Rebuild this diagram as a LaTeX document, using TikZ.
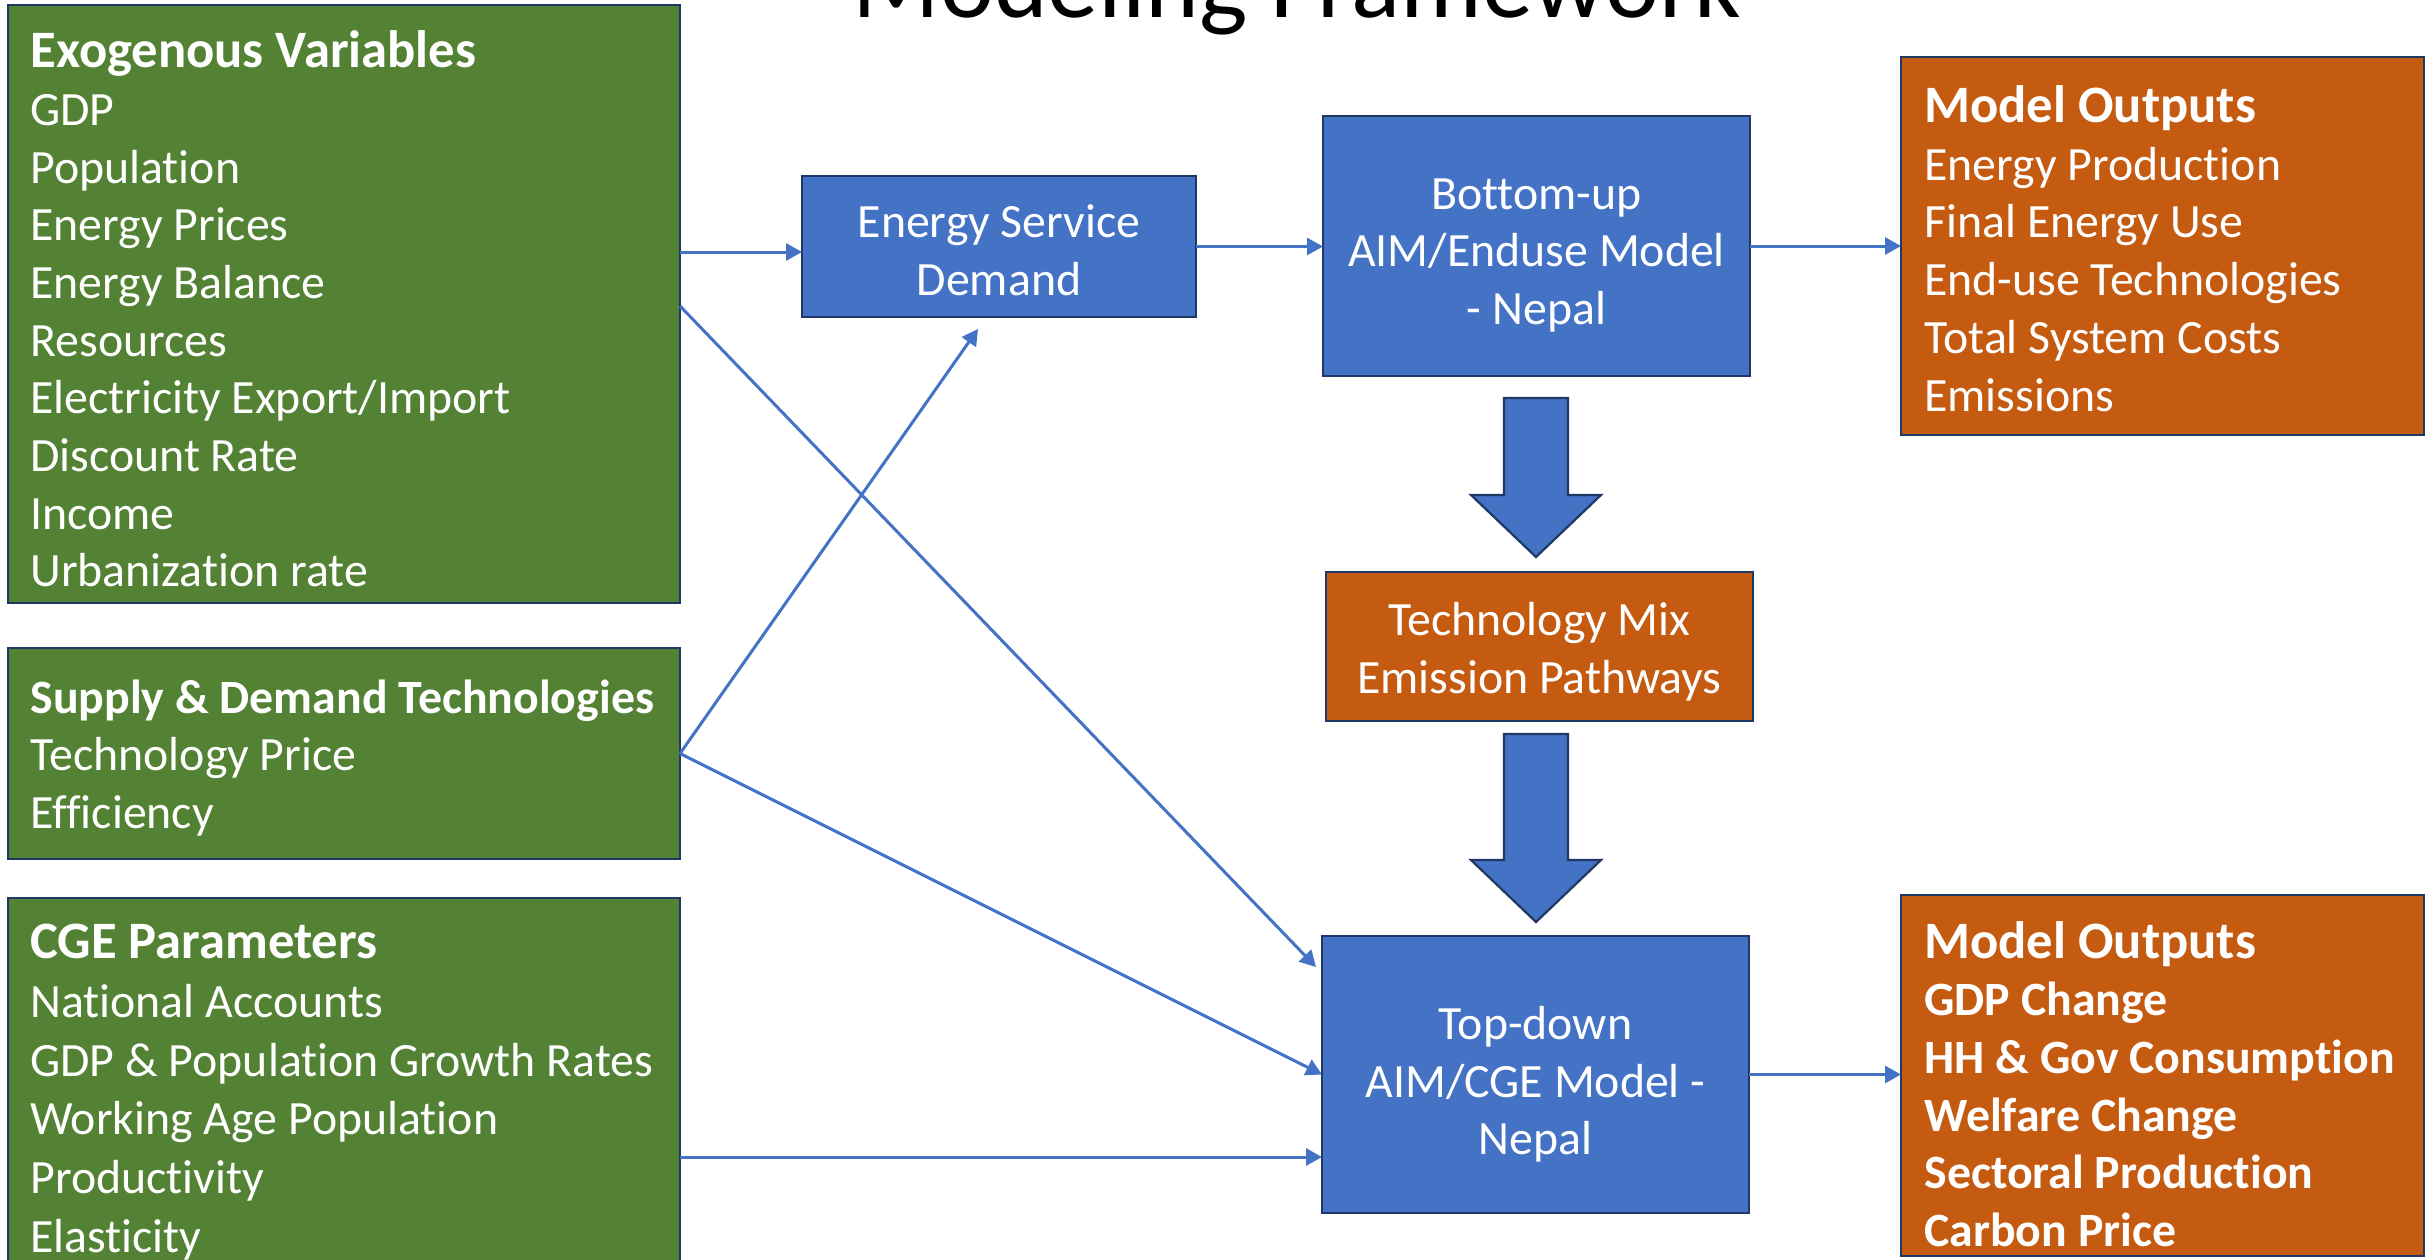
\documentclass[tikz,border=0pt]{standalone}
\usepackage{fontspec}
\setmainfont{Carlito}[Ligatures=NoCommon]
\usetikzlibrary{arrows.meta,calc}
\definecolor{fgreen}{HTML}{548235}
\definecolor{fblue}{HTML}{4472C4}
\definecolor{forange}{HTML}{C55A11}
\definecolor{fnavy}{HTML}{1F3864}
\newcommand\dgbody{\fontsize{23.9pt}{28.85pt}\selectfont}
\newcommand\dghead[1]{{\fontsize{26.3pt}{28.85pt}\selectfont\bfseries #1}}
\begin{document}
\begin{tikzpicture}[x=0.5pt,y=-0.5pt,
  box/.style={draw=fnavy, line width=1.1pt, inner sep=0pt, outer sep=0pt},
  gbox/.style={box, fill=fgreen},
  bbox/.style={box, fill=fblue},
  obox/.style={box, fill=forange},
  ctext/.style={align=center, text=white, inner sep=0pt, font=\dgbody},
  listtext/.style={anchor=west, align=left, text=white, inner sep=0pt, font=\dgbody},
  conn/.style={draw=fblue, line width=1.5pt, -{Triangle[length=8pt,width=8.5pt]}},
  blockarrow/.style={draw=fnavy, fill=fblue, line width=1.1pt, line join=miter}
]
\fill[white] (0,0) rectangle (2435,1259);
\useasboundingbox (0,0) rectangle (2435,1259);

% title
\node[anchor=base, inner sep=0pt, font=\fontsize{51.2pt}{60pt}\selectfont] (title) at (1297,17) {Modeling Framework};

% left column
\node[gbox, minimum width=336pt, minimum height=299pt] (exo) at (344,304) {};
\node[listtext] (exoT) at (30,309) {\dghead{Exogenous Variables}\\GDP\\Population\\Energy Prices\\Energy Balance\\Resources\\Electricity Export/Import\\Discount Rate\\Income\\Urbanization rate};

\node[gbox, minimum width=336pt, minimum height=105.5pt] (sup) at (344,753.5) {};
\node[listtext] (supT) at (30,758) {\textbf{Supply \& Demand Technologies}\\Technology Price\\Efficiency};

\node[gbox, minimum width=336pt, minimum height=190pt] (cge) at (344,1088) {};
\node[listtext, font=\fontsize{23.9pt}{29.35pt}\selectfont] (cgeT) at (30,1092) {{\fontsize{26.3pt}{29.35pt}\selectfont\bfseries CGE Parameters}\\National Accounts\\GDP \& Population Growth Rates\\Working Age Population\\Productivity\\Elasticity};

% middle
\node[bbox, minimum width=197pt, minimum height=70.5pt] (esd) at (999,246.5) {};
\node[ctext] (esdT) at (999,250) {Energy Service\\Demand};
\node[bbox, minimum width=213.5pt, minimum height=130pt] (bu) at (1536.5,246) {};
\node[ctext] (buT) at (1536.5,255.5) {Bottom-up\\AIM/Enduse Model\\- Nepal};
\node[obox, minimum width=213.5pt, minimum height=74.5pt] (tm) at (1539.5,646.5) {};
\node[ctext] (tmT) at (1539.5,652) {Technology Mix\\Emission Pathways};
\node[bbox, minimum width=213.5pt, minimum height=138.5pt] (td) at (1535.5,1074.5) {};
\node[ctext] (tdT) at (1535.5,1084.5) {Top-down\\AIM/CGE Model -\\Nepal};

% outputs
\node[obox, minimum width=261.5pt, minimum height=189pt] (mo1) at (2162.5,246) {};
\node[listtext] (mo1T) at (1924,248.5) {\dghead{Model Outputs}\\Energy Production\\Final Energy Use\\End-use Technologies\\Total System Costs\\Emissions};
\node[obox, minimum width=261.5pt, minimum height=180.5pt] (mo2) at (2162.5,1075.5) {};
\node[listtext, font=\dgbody\bfseries] (mo2T) at (1924,1084) {\dghead{Model Outputs}\\GDP Change\\HH \& Gov Consumption\\Welfare Change\\Sectoral Production\\Carbon Price};

% block arrows
\draw[blockarrow] (1504,398) -- (1568,398) -- (1568,495) -- (1601,495) -- (1536,557) -- (1471,495) -- (1504,495) -- cycle;
\draw[blockarrow] (1504,734) -- (1568,734) -- (1568,860) -- (1601,860) -- (1536,922) -- (1471,860) -- (1504,860) -- cycle;

% connectors
\draw[conn] ($(exo.north east)+(0,247)$) -- ($(esd.north west)+(0,76)$);
\draw[conn] (esd.east) -- (esd.east -| bu.west);
\draw[conn] (bu.east) -- (bu.east -| mo1.west);
\draw[conn] ($(exo.north east)+(0,301)$) -- ($(td.north west)+(-6,31)$);
\draw[conn] (sup.east) -- ($(esd.south)+(-21,12)$);
\draw[conn] (sup.east) -- (td.west);
\draw[conn] ($(cge.north east)+(0,259)$) -- ($(td.north west)+(0,221)$);
\draw[conn] (td.east) -- (td.east -| mo2.west);
\end{tikzpicture}
\end{document}
